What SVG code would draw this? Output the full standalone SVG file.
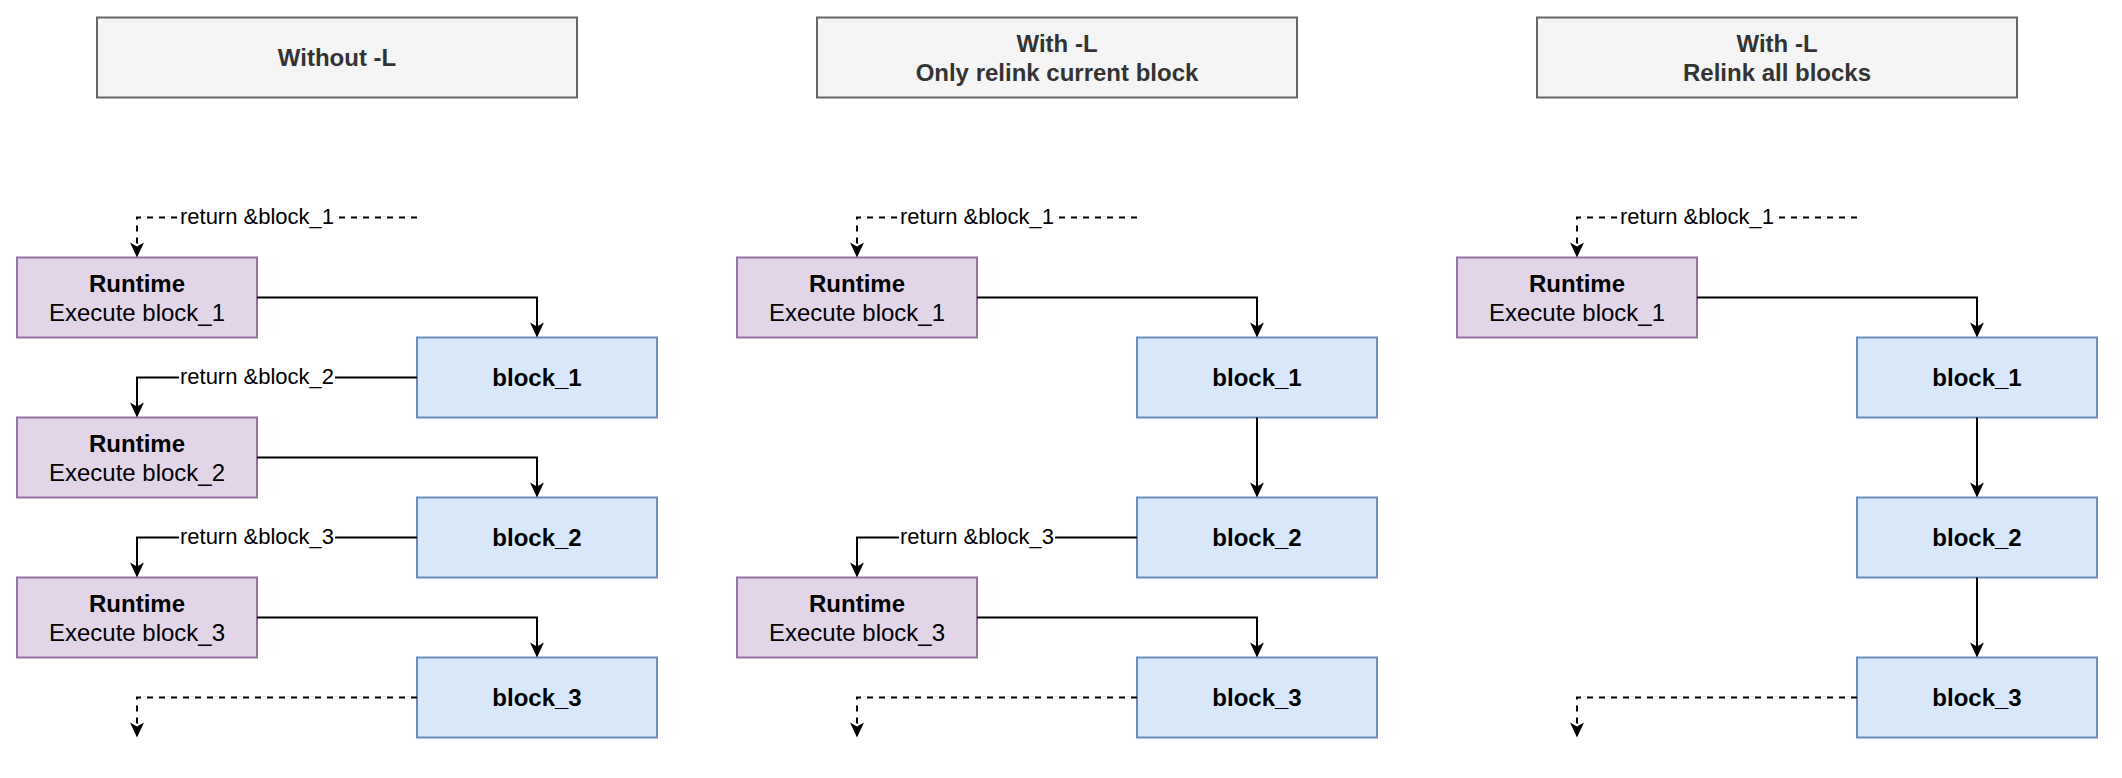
<svg xmlns="http://www.w3.org/2000/svg" width="2122" height="778" viewBox="0 0 2122 778">
<style>
text{font-family:"Liberation Sans",Arial,Helvetica,sans-serif;text-anchor:middle}
.hdr rect{fill:#f5f5f5;stroke:#666666;stroke-width:2}
.hdr text{fill:#333333;font-size:24px;font-weight:bold}
.rt rect{fill:#e1d5e7;stroke:#9673a6;stroke-width:2}
.blk rect{fill:#dae8fc;stroke:#6c8ebf;stroke-width:2}
.rt text,.blk text{fill:#000000;font-size:24px}
.b{font-weight:bold}
.e{fill:none;stroke:#000000;stroke-width:2;marker-end:url(#arr)}
.d{stroke-dasharray:6 6}
.lbg{fill:#ffffff}
.lbl{font-size:22px;fill:#000000}
</style>
<defs>
<marker id="arr" markerUnits="userSpaceOnUse" viewBox="0 0 20 20" markerWidth="20" markerHeight="20" refX="15" refY="10" orient="auto">
<path d="M18,10 L3,3 L7,10 L3,17 Z" fill="#000000"/>
</marker>
</defs>
<rect width="2122" height="778" fill="#ffffff"/>
<g transform="translate(1,1.5)">
<g id="hdr1" class="hdr"><rect x="96" y="16" width="480" height="80"/><text x="336" y="64">Without -L</text></g>
<g id="hdr2" class="hdr"><rect x="816" y="16" width="480" height="80"/><text x="1056" y="50">With -L</text><text x="1056" y="79">Only relink current block</text></g>
<g id="hdr3" class="hdr"><rect x="1536" y="16" width="480" height="80"/><text x="1776" y="50">With -L</text><text x="1776" y="79">Relink all blocks</text></g>

<g id="c1_rt1" class="rt"><rect x="16" y="256" width="240" height="80"/><text x="136" y="290" class="b">Runtime</text><text x="136" y="319">Execute block_1</text></g>
<g id="c1_b1" class="blk"><rect x="416" y="336" width="240" height="80"/><text x="536" y="384" class="b">block_1</text></g>
<g id="c1_rt2" class="rt"><rect x="16" y="416" width="240" height="80"/><text x="136" y="450" class="b">Runtime</text><text x="136" y="479">Execute block_2</text></g>
<g id="c1_b2" class="blk"><rect x="416" y="496" width="240" height="80"/><text x="536" y="544" class="b">block_2</text></g>
<g id="c1_rt3" class="rt"><rect x="16" y="576" width="240" height="80"/><text x="136" y="610" class="b">Runtime</text><text x="136" y="639">Execute block_3</text></g>
<g id="c1_b3" class="blk"><rect x="416" y="656" width="240" height="80"/><text x="536" y="704" class="b">block_3</text></g>

<g id="c2_rt1" class="rt"><rect x="736" y="256" width="240" height="80"/><text x="856" y="290" class="b">Runtime</text><text x="856" y="319">Execute block_1</text></g>
<g id="c2_b1" class="blk"><rect x="1136" y="336" width="240" height="80"/><text x="1256" y="384" class="b">block_1</text></g>
<g id="c2_b2" class="blk"><rect x="1136" y="496" width="240" height="80"/><text x="1256" y="544" class="b">block_2</text></g>
<g id="c2_rt3" class="rt"><rect x="736" y="576" width="240" height="80"/><text x="856" y="610" class="b">Runtime</text><text x="856" y="639">Execute block_3</text></g>
<g id="c2_b3" class="blk"><rect x="1136" y="656" width="240" height="80"/><text x="1256" y="704" class="b">block_3</text></g>

<g id="c3_rt1" class="rt"><rect x="1456" y="256" width="240" height="80"/><text x="1576" y="290" class="b">Runtime</text><text x="1576" y="319">Execute block_1</text></g>
<g id="c3_b1" class="blk"><rect x="1856" y="336" width="240" height="80"/><text x="1976" y="384" class="b">block_1</text></g>
<g id="c3_b2" class="blk"><rect x="1856" y="496" width="240" height="80"/><text x="1976" y="544" class="b">block_2</text></g>
<g id="c3_b3" class="blk"><rect x="1856" y="656" width="240" height="80"/><text x="1976" y="704" class="b">block_3</text></g>

<g id="connectors">
<path class="e d" d="M416,216 H136 V253"/>
<path class="e" d="M256,296 H536 V333"/>
<path class="e" d="M416,376 H136 V413"/>
<path class="e" d="M256,456 H536 V493"/>
<path class="e" d="M416,536 H136 V573"/>
<path class="e" d="M256,616 H536 V653"/>
<path class="e d" d="M416,696 H136 V733"/>

<path class="e d" d="M1136,216 H856 V253"/>
<path class="e" d="M976,296 H1256 V333"/>
<path class="e" d="M1256,416 V493"/>
<path class="e" d="M1136,536 H856 V573"/>
<path class="e" d="M976,616 H1256 V653"/>
<path class="e d" d="M1136,696 H856 V733"/>

<path class="e d" d="M1856,216 H1576 V253"/>
<path class="e" d="M1696,296 H1976 V333"/>
<path class="e" d="M1976,416 V493"/>
<path class="e" d="M1976,576 V653"/>
<path class="e d" d="M1856,696 H1576 V733"/>

<rect class="lbg" x="178" y="203" width="156" height="24"/><text class="lbl" x="256" y="222">return &amp;block_1</text>
<rect class="lbg" x="178" y="363" width="156" height="24"/><text class="lbl" x="256" y="382">return &amp;block_2</text>
<rect class="lbg" x="178" y="523" width="156" height="24"/><text class="lbl" x="256" y="542">return &amp;block_3</text>
<rect class="lbg" x="898" y="203" width="156" height="24"/><text class="lbl" x="976" y="222">return &amp;block_1</text>
<rect class="lbg" x="898" y="523" width="156" height="24"/><text class="lbl" x="976" y="542">return &amp;block_3</text>
<rect class="lbg" x="1618" y="203" width="156" height="24"/><text class="lbl" x="1696" y="222">return &amp;block_1</text>
</g>
</g>
</svg>
